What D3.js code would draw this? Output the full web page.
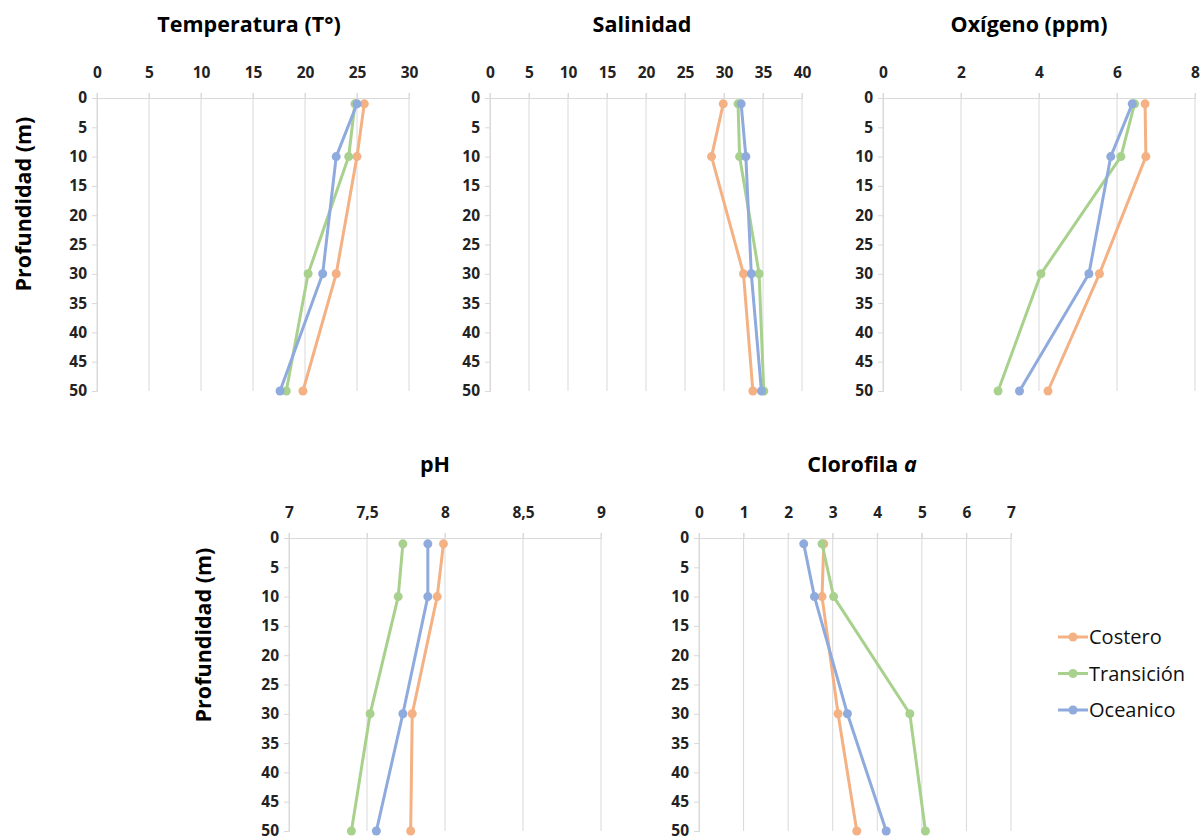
<!DOCTYPE html>
<html>
<head>
<meta charset="utf-8">
<script src="https://cdn.jsdelivr.net/npm/d3@7"></script>
<style>
  body { margin: 0; background: #fff; }
  svg text { font-family: "Open Sans", sans-serif; }
  .tick text { font-weight: bold; font-size: 15.5px; fill: #222; }
</style>
</head>
<body>
<svg id="chart" width="1202" height="840"></svg>
<script>
// profundidad de muestreo (m)
const depths = [1, 10, 30, 50]
const seriesNames = ['Costero', 'Transición', 'Oceanico']
const colors = ['#F4B183', '#A9D18E', '#8FAADC']
const depthTicks = [0, 5, 10, 15, 20, 25, 30, 35, 40, 45, 50]

// valores por serie: [Costero, Transición, Oceanico]
const temperatura = [
  [25.7, 25.0, 23.0, 19.8],
  [24.8, 24.2, 20.3, 18.2],
  [25.0, 23.0, 21.7, 17.6]
]
const salinidad = [
  [29.9, 28.4, 32.5, 33.7],
  [31.8, 32.0, 34.5, 35.1],
  [32.2, 32.8, 33.5, 34.8]
]
const oxigeno = [
  [6.72, 6.74, 5.55, 4.23],
  [6.45, 6.10, 4.05, 2.95],
  [6.39, 5.84, 5.28, 3.50]
]
const ph = [
  [7.99, 7.95, 7.79, 7.78],
  [7.73, 7.70, 7.52, 7.40],
  [7.89, 7.89, 7.73, 7.56]
]
const clorofila = [
  [2.80, 2.76, 3.12, 3.54],
  [2.76, 3.02, 4.73, 5.08],
  [2.35, 2.59, 3.33, 4.20]
]

const tempTicks = [0, 5, 10, 15, 20, 25, 30]
const salTicks = [0, 5, 10, 15, 20, 25, 30, 35, 40]
const oxTicks = [0, 2, 4, 6, 8]
const phTicks = [7, 7.5, 8, 8.5, 9]
const cloTicks = [0, 1, 2, 3, 4, 5, 6, 7]

const svg = d3.select('#chart')

function panel(opts) {
  const { left, top, title, titleX, values, ticks, ylabel, ylabelX, ylabelY } = opts
  const w = 312, h = 293
  const g = svg.append('g').attr('transform', `translate(${left},${top})`)

  const x = d3.scaleLinear().domain(d3.extent(ticks)).range([0, w])
  const y = d3.scaleLinear().domain([0, 50]).range([0, h])

  // lineas de grilla verticales
  g.selectAll('.grid').data(ticks).enter().append('line')
    .attr('x1', d => x(d)).attr('x2', d => x(d))
    .attr('y1', -5).attr('y2', h)
    .attr('stroke', '#d9d9d9').attr('stroke-width', 1)

  const xAxis = g.append('g')
    .call(d3.axisTop(x).tickValues(ticks).tickSize(5).tickPadding(15)
      .tickFormat(d => String(d).replace('.', ',')))
  xAxis.select('.domain').attr('stroke', '#d9d9d9')
  xAxis.selectAll('.tick line').attr('stroke', '#d9d9d9')

  const yAxis = g.append('g')
    .call(d3.axisLeft(y).tickValues(depthTicks).tickSize(5).tickPadding(5))
  yAxis.select('.domain').attr('stroke', '#d9d9d9')
  yAxis.selectAll('.tick line').attr('stroke', '#d9d9d9')

  const line = d3.line().x(d => x(d[0])).y(d => y(d[1]))

  values.forEach((vals, i) => {
    const pts = vals.map((v, j) => [v, depths[j]])
    g.append('path').datum(pts)
      .attr('d', line).attr('fill', 'none')
      .attr('stroke', colors[i]).attr('stroke-width', 3)
      .attr('stroke-linejoin', 'round')
    g.selectAll('.pt' + i).data(pts).enter().append('circle')
      .attr('cx', d => x(d[0])).attr('cy', d => y(d[1]))
      .attr('r', 4.5).attr('fill', colors[i])
  })

  const t = svg.append('text')
    .attr('x', titleX).attr('y', top - 66)
    .attr('text-anchor', 'middle')
    .attr('font-size', 21.5).attr('font-weight', 'bold').attr('fill', '#000')
  if (title === 'Clorofila a') {
    t.append('tspan').text('Clorofila ')
    t.append('tspan').attr('font-style', 'italic').text('a')
  } else {
    t.text(title)
  }

  if (ylabel) {
    svg.append('text')
      .attr('transform', `translate(${ylabelX},${ylabelY}) rotate(-90)`)
      .attr('text-anchor', 'middle')
      .attr('font-size', 21.5).attr('font-weight', 'bold').attr('fill', '#000')
      .text('Profundidad (m)')
  }
}

panel({ left: 97, top: 98, title: 'Temperatura (T°)', titleX: 249, values: temperatura, ticks: tempTicks, ylabel: true, ylabelX: 31, ylabelY: 204 })
panel({ left: 490, top: 98, title: 'Salinidad', titleX: 642, values: salinidad, ticks: salTicks })
panel({ left: 883, top: 98, title: 'Oxígeno (ppm)', titleX: 1029, values: oxigeno, ticks: oxTicks })
panel({ left: 289, top: 538, title: 'pH', titleX: 435, values: ph, ticks: phTicks, ylabel: true, ylabelX: 211, ylabelY: 635 })
panel({ left: 699, top: 538, title: 'Clorofila a', titleX: 862, values: clorofila, ticks: cloTicks })

// leyenda
const legend = svg.append('g').attr('transform', 'translate(1058,637)')
seriesNames.forEach((name, i) => {
  const row = legend.append('g').attr('transform', `translate(0,${i * 36.5})`)
  row.append('line').attr('x1', 0).attr('x2', 30).attr('y1', 0).attr('y2', 0)
    .attr('stroke', colors[i]).attr('stroke-width', 3)
  row.append('circle').attr('cx', 15).attr('cy', 0).attr('r', 4.5).attr('fill', colors[i])
  row.append('text').attr('x', 31).attr('y', 0).attr('dy', '0.35em')
    .attr('font-size', 20).attr('fill', '#111').text(name)
})
</script>
</body>
</html>
